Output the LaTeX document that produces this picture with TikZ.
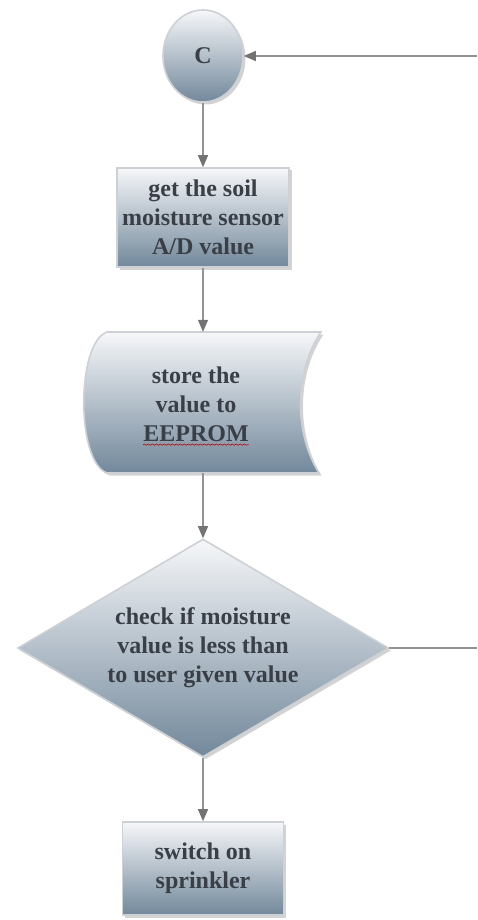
\documentclass[tikz,border=0pt]{standalone}
\usepackage{fontspec}
\setmainfont{Liberation Serif}
\usetikzlibrary{arrows.meta,shapes.geometric,shadows,decorations.pathmorphing}
\definecolor{txtc}{HTML}{3A3F47}
\definecolor{topc}{HTML}{F6F7F9}
\definecolor{botc}{HTML}{72889B}
\definecolor{edgec}{HTML}{939393}
\definecolor{tipc}{HTML}{737373}
\definecolor{rimc}{HTML}{CDD0D4}
\begin{document}
\begin{tikzpicture}[x=1pt,y=-1pt,
  shapefill/.style={top color=topc,bottom color=botc,draw=rimc,line width=1.6pt,
    drop shadow={opacity=0.35,shadow xshift=2.5pt,shadow yshift=-2.5pt}},
  txt/.style={font=\bfseries\fontsize{24}{29}\selectfont,text=txtc,align=center,inner sep=0pt},
  conn/.style={draw=edgec,line width=1.3pt},
  arr/.style={conn,-{Triangle[length=12pt,width=10pt,fill=tipc,color=tipc]}}]
\useasboundingbox (0,0) rectangle (477,920);

% start connector
\node[ellipse,shapefill,minimum width=80pt,minimum height=92pt,inner sep=0pt,txt] (C) at (203,56) {C};

\node[rectangle,shapefill,minimum width=172pt,minimum height=99pt,txt] (get) at (203,217.5)
  {get the soil\\moisture sensor\\A/D value};

% stored data shape
\node[minimum width=235pt,minimum height=141pt,inner sep=0pt] (store) at (203,402.5) {};
\path[shapefill] (107,332) -- (321,332) .. controls (294,372) and (294,433) .. (319,473)
  -- (107,473) .. controls (76,462) and (76,343) .. cycle;
\node[txt] (storetxt) at (196,404) {store the\\value to\\EEPROM};
\draw[red!75!black,line width=0.6pt,decorate,decoration={snake,amplitude=0.7pt,segment length=4pt}]
  ([yshift=-3pt]storetxt.south west) -- ([yshift=-3pt]storetxt.south east);

% decision
\node[diamond,shapefill,minimum width=371pt,minimum height=218pt,inner sep=0pt] (dia) at (203,648) {};
\node[txt] (diatxt) at (dia.center) {check if moisture\\value is less than\\to user given value};

\node[rectangle,shapefill,minimum width=161pt,minimum height=93pt,txt] (sw) at (203,868.5)
  {switch on\\sprinkler};

% connectors
\coordinate (rin) at (477,56);
\coordinate (rout) at (477,648);
\draw[arr] (rin) -- (C.east);
\draw[arr] (C.south) -- (get.north);
\draw[arr] (get.south) -- (store.north);
\draw[arr] (store.south) -- (dia.north);
\draw[conn] (dia.east) -- (rout);
\draw[arr] (dia.south) -- (sw.north);
\end{tikzpicture}
\end{document}
